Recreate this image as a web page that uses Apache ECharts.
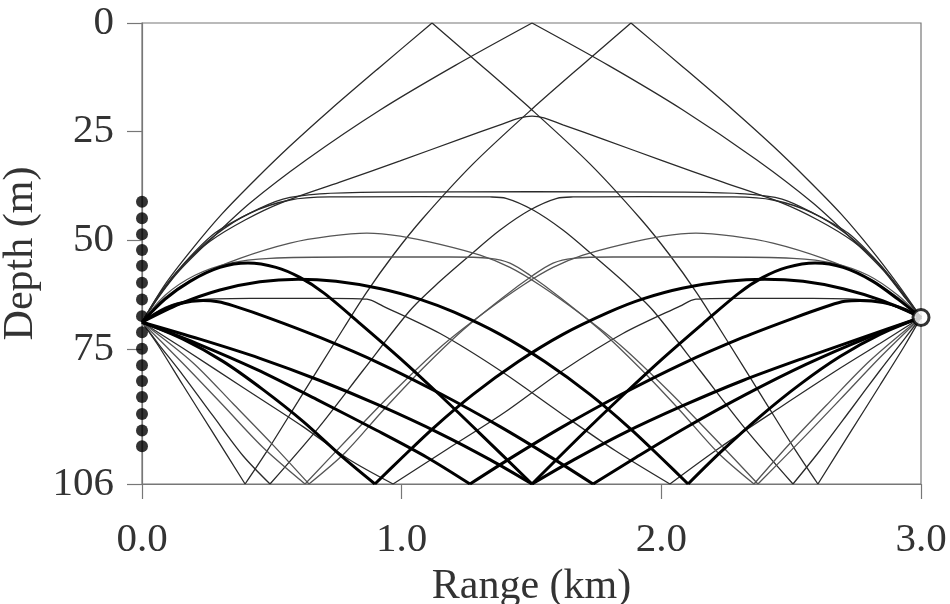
<!DOCTYPE html>
<html>
<head>
<meta charset="utf-8">
<title>ray paths</title>
<script src="https://cdn.jsdelivr.net/npm/echarts@6/dist/echarts.min.js"></script>
<style>
  html,body{margin:0;padding:0;background:#fff;}
  #main{width:950px;height:604px;}
</style>
</head>
<body>
<div id="main"></div>
<script type="text/javascript">
// axis ticks
var xTicks = [0, 1, 2, 3];
var yTicks = [0, 25, 50, 75, 106];
var surfaceDepth = 0;
var bottomDepth = 106;

// receiver array (left) and source (right)
var arrayDepths = [41.1, 44.9, 48.6, 52.2, 55.8, 59.7, 63.6, 67.4, 71.1, 74.9, 78.7, 82.3, 86.0, 89.9, 93.7, 97.3];
var sourcePos = [3.0, 67.7];

// thin rays  [range km, depth m]
var rayS = [[0,68.8],[0.069,62.6],[0.146,56.8],[0.262,49.9],[0.416,41.4],[0.632,31.5],[0.917,20.0],[1.205,9.8],[1.502,0],
  [1.798,9.8],[2.083,20.0],[2.368,31.5],[2.584,41.4],[2.738,49.9],[2.854,56.8],[2.931,62.6],[3.0,67.7]];
var raySB = [[0,68.8],[0.089,60.1],[0.193,52.0],[0.308,43.9],[0.435,36.1],[0.570,28.3],[0.724,20.0],[0.917,10.1],[1.117,0],
  [1.282,8.5],[1.502,20.0],[1.725,32.4],[1.918,44.9],[2.033,53.4],[2.137,62.1],[2.253,73.0],[2.399,87.0],[2.515,98.1],[2.603,106],
  [2.727,94.2],[2.842,83.3],[2.938,74.1],[3.0,67.7]];
var rayBS = [[0,68.8],[0.062,74.1],[0.158,83.3],[0.273,94.2],[0.397,106],
  [0.485,98.1],[0.601,87.0],[0.747,73.0],[0.863,62.1],[0.967,53.4],[1.082,44.9],[1.275,32.4],[1.498,20.0],[1.718,8.5],[1.883,0],
  [2.083,10.1],[2.276,20.0],[2.430,28.3],[2.565,36.1],[2.692,43.9],[2.807,52.0],[2.911,60.1],[3.0,67.7]];
var rayC = [[0,68.8],[0.069,62.4],[0.154,55.9],[0.262,50.2],[0.397,45.3],[0.543,41.2],[0.762,36.6],[0.994,31.7],[1.225,26.7],
  [1.379,23.4],[1.456,21.8],[1.502,21.4],[1.548,21.8],[1.621,23.4],[1.775,26.7],[2.006,31.7],[2.237,36.6],[2.457,41.2],
  [2.603,45.3],[2.738,50.2],[2.846,55.9],[2.931,62.4],[3.0,67.7]];
var rayF0 = [[0,68.8],[0.069,62.1],[0.166,55.0],[0.281,48.3],[0.416,43.7],[0.543,40.5],[0.685,39.3],[0.917,38.9],[1.502,38.8],
  [2.091,38.9],[2.322,39.3],[2.465,40.5],[2.584,43.7],[2.719,48.3],[2.834,55.0],[2.931,62.1],[3.0,67.7]];
var rayFd = [[0,68.8],[0.069,62.4],[0.166,55.2],[0.281,48.8],[0.416,43.7],[0.570,40.7],[0.724,40.0],[1.071,39.9],[1.340,40.0],[1.402,40.3],
  [1.506,43.0],[1.621,47.6],[1.737,53.4],[1.860,59.8],[1.968,66.1],[2.149,79.9],[2.322,93.2],[2.507,106],
  [2.611,98.3],[2.727,89.1],[2.842,79.9],[2.938,72.5],[3.0,67.7]];
var rayFu = [[0,68.8],[0.062,73.7],[0.158,81.0],[0.273,90.3],[0.389,99.5],[0.493,106],
  [0.678,93.2],[0.851,79.9],[1.032,66.1],[1.140,59.8],[1.263,53.4],[1.379,47.6],[1.494,43.0],[1.598,40.3],[1.660,40.0],[1.929,39.9],
  [2.276,40.0],[2.430,40.7],[2.584,43.7],[2.719,48.8],[2.834,55.2],[2.931,62.4],[3.0,67.7]];
var rayH = [[0,68.8],[0.089,65.4],[0.185,63.8],[0.416,63.3],[0.724,63.3],[0.866,63.5],[0.928,65.1],[1.148,71.4],[1.379,79.9],[1.610,89.6],[1.822,98.3],[2.033,106],
  [2.226,97.6],[2.457,88.4],[2.688,79.4],[2.842,73.7],[3.0,67.7]];
var rayHm = [[0,68.8],[0.158,74.8],[0.389,83.8],[0.620,92.8],[0.793,100.2],[0.967,106],
  [1.178,97.9],[1.390,89.8],[1.621,79.9],[1.852,71.4],[2.072,65.1],[2.133,63.5],[2.276,63.3],[2.584,63.3],[2.815,63.8],[2.911,65.4],[3.0,67.7]];

// grey rays
var rayG1 = [[0,68.8],[0.158,78.3],[0.312,87.9],[0.466,97.6],[0.628,106],
  [0.793,95.6],[0.967,84.9],[1.148,74.6],[1.313,66.8],[1.467,60.3],[1.583,56.2],[1.698,53.4],[1.852,50.9],[2.006,49.0],[2.133,48.3],
  [2.276,49.0],[2.430,50.6],[2.623,54.1],[2.777,58.0],[2.911,63.1],[3.0,67.7]];
var rayG1m = [[0,68.8],[0.089,63.1],[0.223,58.0],[0.377,54.1],[0.570,50.6],[0.724,49.0],[0.866,48.3],[0.994,49.0],[1.148,50.9],[1.302,53.4],
  [1.417,56.2],[1.533,60.3],[1.687,66.8],[1.852,74.6],[2.033,84.9],[2.207,95.6],[2.372,106],
  [2.534,96.2],[2.688,86.6],[2.842,76.9],[3.0,67.7]];
var rayG2 = [[0,68.8],[0.196,78.1],[0.350,87.5],[0.504,97.0],[0.643,106],
  [0.782,98.8],[0.928,89.1],[1.082,79.4],[1.236,70.6],[1.390,63.1],[1.506,58.0],[1.583,55.2],[1.660,54.1],[1.814,53.8],[2.199,53.8],
  [2.507,54.1],[2.661,55.2],[2.796,58.0],[2.911,62.6],[3.0,67.7]];
var rayG2m = [[0,68.8],[0.089,62.6],[0.204,58.0],[0.339,55.2],[0.493,54.1],[0.801,53.8],[1.186,53.8],[1.340,54.1],[1.417,55.2],[1.494,58.0],
  [1.610,63.1],[1.764,70.6],[1.918,79.4],[2.072,89.1],[2.218,98.8],[2.357,106],
  [2.495,96.7],[2.650,87.0],[2.804,77.6],[3.0,67.7]];

// thick rays
var rayKB = [[0,68.8],[0.223,72.7],[0.454,77.1],[0.685,82.2],[0.917,88.0],[1.148,94.4],[1.340,100.4],[1.502,106],
  [1.664,100.4],[1.852,94.4],[2.083,88.0],[2.314,82.2],[2.546,77.1],[2.777,72.3],[3.0,67.7]];
var rayK1 = [[0,68.8],[0.146,64.6],[0.300,61.4],[0.454,59.5],[0.601,58.9],[0.747,59.4],[0.920,61.1],[1.074,63.6],[1.202,66.5],
  [1.379,71.6],[1.552,77.9],[1.725,85.4],[1.879,93.2],[2.003,100.2],[2.103,106],
  [2.226,98.8],[2.380,90.5],[2.534,83.1],[2.688,76.7],[2.842,71.6],[3.0,67.7]];
var rayK1m = [[0,68.8],[0.158,72.7],[0.312,77.8],[0.466,84.3],[0.620,91.6],[0.774,99.9],[0.897,106],
  [0.997,100.2],[1.121,93.2],[1.275,85.4],[1.448,77.9],[1.621,71.6],[1.798,66.5],[1.926,63.5],[2.080,61.0],[2.253,59.4],[2.399,58.9],
  [2.546,59.4],[2.700,61.1],[2.854,63.9],[3.0,67.7]];
var rayK2 = [[0,68.8],[0.089,63.5],[0.185,59.4],[0.300,56.2],[0.408,55.2],[0.516,56.2],[0.608,58.5],[0.701,62.1],[0.840,69.1],
  [0.994,77.1],[1.148,85.6],[1.302,94.4],[1.502,106],
  [1.698,94.4],[1.852,85.6],[2.006,77.1],[2.160,69.1],[2.299,62.1],[2.391,58.5],[2.484,56.2],[2.592,55.2],
  [2.700,56.2],[2.815,59.4],[2.911,63.5],[3.0,67.7]];
var rayK3 = [[0,68.8],[0.212,73.7],[0.443,79.7],[0.674,86.6],[0.905,93.7],[1.098,99.9],[1.263,106],
  [1.429,99.7],[1.621,92.8],[1.852,85.2],[2.083,78.3],[2.314,72.3],[2.507,67.9],[2.650,64.9],[2.707,64.0],[2.765,63.8],
  [2.854,64.3],[2.931,65.7],[3.0,67.7]];
var rayK3m = [[0,68.8],[0.069,66.3],[0.146,64.5],[0.235,63.8],[0.293,64.1],[0.350,65.0],[0.493,67.9],[0.685,72.3],[0.917,78.3],
  [1.148,85.2],[1.379,92.8],[1.571,99.7],[1.737,106],
  [1.902,99.9],[2.095,93.0],[2.326,85.4],[2.557,78.5],[2.788,72.5],[3.0,67.7]];

var thinRays = [rayS, raySB, rayBS, rayC, rayF0, rayFd, rayFu, rayH, rayHm];
var greyRays = [rayG1, rayG1m, rayG2, rayG2m];
var thickRays = [rayKB, rayK1, rayK1m, rayK2, rayK3, rayK3m];

//split a ray where it touches the surface or the bottom
function splitAtBounces(ray){
	var segs = [], cur = [ray[0]];
	for(var i=1;i<ray.length;i++){
		cur.push(ray[i]);
		var d = ray[i][1];
		if(i < ray.length-1 && (d <= surfaceDepth || d >= bottomDepth)){
			segs.push(cur);
			cur = [ray[i]];
		}
	}
	segs.push(cur);
	return segs;
}

var series = [];
function addRays(list, color, width){
	for(var i=0;i<list.length;i++){
		var segs = splitAtBounces(list[i]);
		for(var j=0;j<segs.length;j++){
			series.push({
				type:'line',
				data:segs[j],
				smooth:0.3,
				showSymbol:false,
				symbol:'none',
				silent:true,
				lineStyle:{color:color,width:width},
				z:2
			});
		}
	}
}
addRays(thinRays, '#2a2a2a', 1.3);
addRays(greyRays, '#555555', 1.3);
addRays(thickRays, '#000000', 3);

var dots = [];
for(var i=0;i<arrayDepths.length;i++){
	dots.push([0, arrayDepths[i]]);
}
series.push({
	type:'scatter',
	data:dots,
	symbolSize:12,
	clip:false,
	itemStyle:{color:'#000'},
	z:5
});
series.push({
	type:'scatter',
	data:[sourcePos],
	symbolSize:16,
	clip:false,
	itemStyle:{color:'#fff',borderColor:'#000',borderWidth:3},
	z:6
});

var fontFam = '"Liberation Serif","DejaVu Serif",serif';
var axisGrey = '#777';
var textCol = '#333';

var chart = echarts.init(document.getElementById('main'));
chart.setOption({
	animation:false,
	grid:{left:142,right:29,top:23,bottom:120,show:true,borderColor:axisGrey,borderWidth:1.2,
		containLabel:false,outerBoundsMode:'none'},
	xAxis:{
		type:'value',min:0,max:3,interval:1,
		name:'Range (km)',nameLocation:'middle',nameGap:81,
		nameTextStyle:{fontFamily:fontFam,fontSize:42,color:textCol},
		axisLine:{show:true,onZero:false,lineStyle:{color:axisGrey,width:1.2}},
		axisTick:{show:true,inside:false,length:15,customValues:xTicks,lineStyle:{color:axisGrey,width:1.2}},
		axisLabel:{fontFamily:fontFam,fontSize:41,color:textCol,margin:36,customValues:xTicks,
			formatter:function(v){return v.toFixed(1);}},
		splitLine:{show:false}
	},
	yAxis:{
		type:'value',min:0,max:106,inverse:true,
		name:'Depth (m)',nameLocation:'middle',nameGap:88,nameRotate:90,
		nameTextStyle:{fontFamily:fontFam,fontSize:42,color:textCol},
		axisLine:{show:true,onZero:false,lineStyle:{color:axisGrey,width:1.2}},
		axisTick:{show:true,inside:false,length:15,customValues:yTicks,lineStyle:{color:axisGrey,width:1.2}},
		axisLabel:{fontFamily:fontFam,fontSize:41,color:textCol,margin:28,customValues:yTicks},
		splitLine:{show:false}
	},
	series:series
});
</script>
</body>
</html>
